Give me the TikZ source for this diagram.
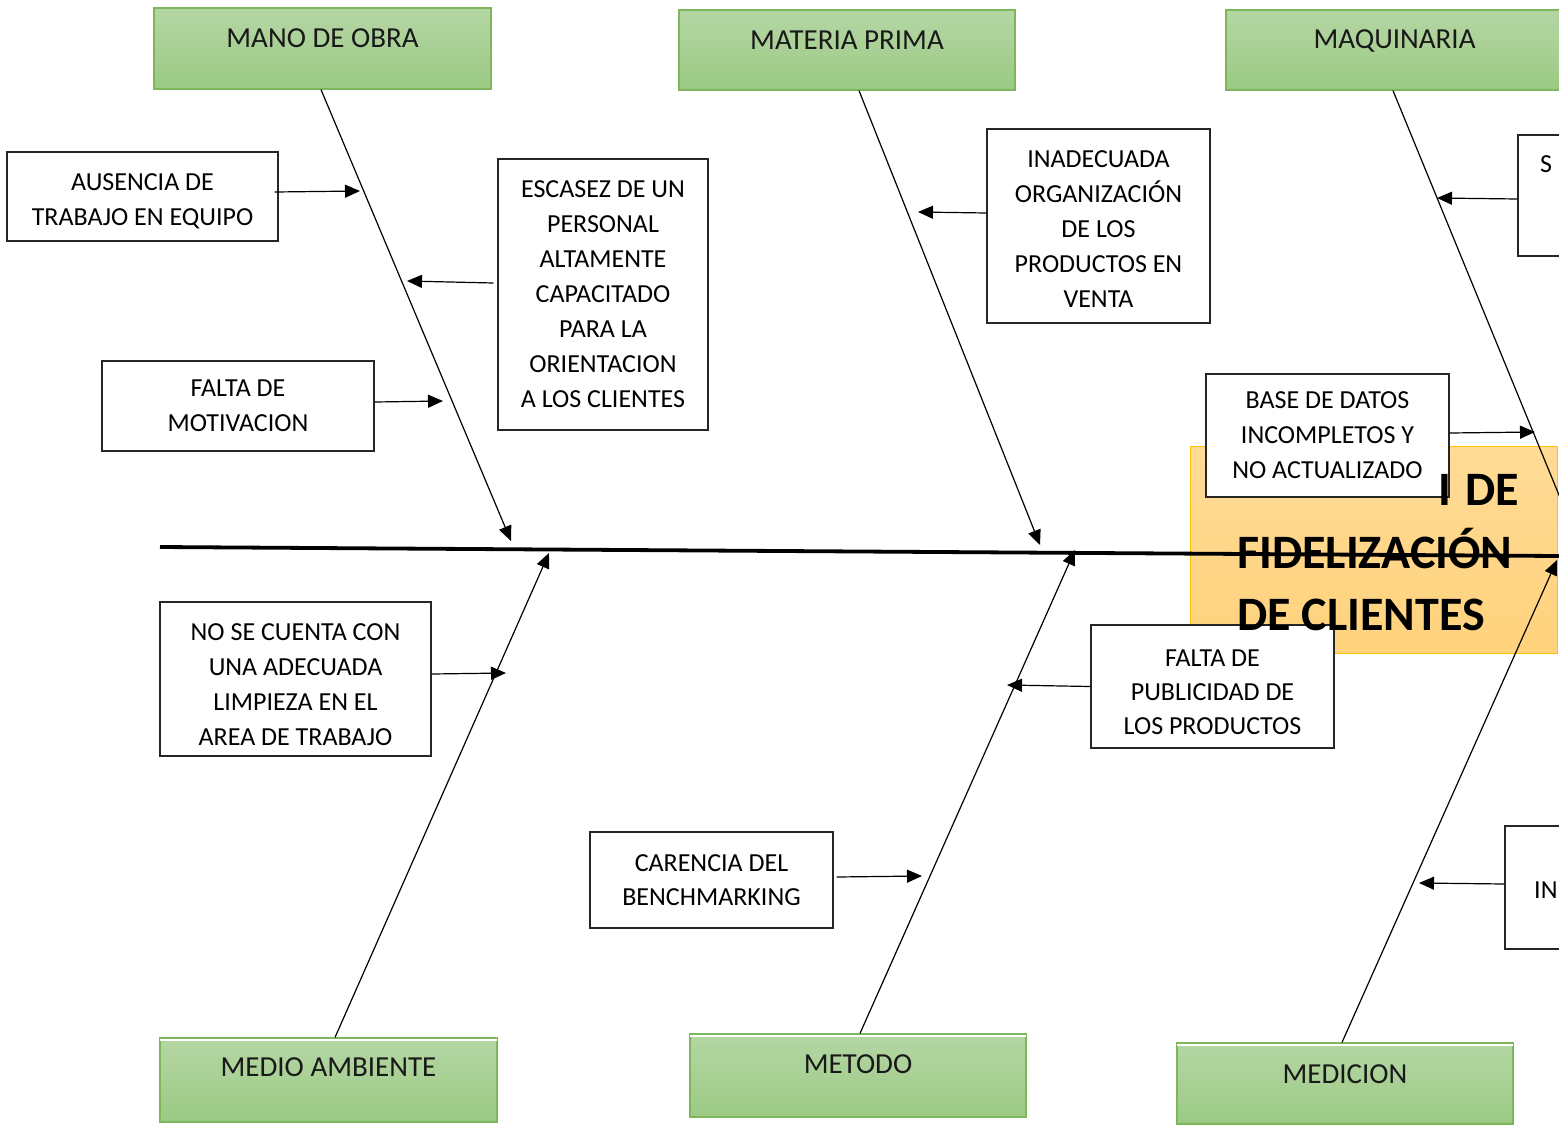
\documentclass[tikz,border=0pt]{standalone}
\usepackage{fontspec}
\setmainfont{Carlito}
\usetikzlibrary{arrows.meta,calc}
\definecolor{grTop}{HTML}{B5D6A4}
\definecolor{grBot}{HTML}{9BCA84}
\definecolor{grEdge}{HTML}{7DB65B}
\definecolor{orTop}{HTML}{FFDB96}
\definecolor{orBot}{HTML}{FFD27C}
\definecolor{orEdge}{HTML}{FFC000}
\newcommand{\upstrut}[1]{\rule{0pt}{#1}}
\tikzset{
  catbox/.style={draw=grEdge, line width=1.2pt, top color=grTop, bottom color=grBot, minimum height=81pt, minimum width=337pt, inner sep=0pt},
  cattxt/.style={font=\fontsize{29}{34}\selectfont, text=black!90, inner sep=0pt},
  cause/.style={draw=black!85, line width=1.1pt, fill=white, align=center, inner sep=0pt, font=\fontsize{26}{35}\selectfont},
  arr/.style={line width=1.2pt, -{Triangle[length=15pt,width=13pt]}},
  bone/.style={line width=1.2pt, -{Triangle[length=15pt,width=13pt]}},
  spine/.style={line width=3.8pt},
  bigtxt/.style={font=\fontsize{48}{63}\selectfont\bfseries, inner sep=0pt, anchor=base west},
  bevel/.style={white, line width=2pt}
}
\begin{document}
\begin{tikzpicture}[x=1pt,y=-1pt]
\useasboundingbox (0,0) rectangle (1559,1125);
\clip (0,0) rectangle (1559,1125);
\fill[white] (0,0) rectangle (1559,1125);

% effect box
\node[draw=orEdge, line width=1pt, top color=orTop, bottom color=orBot, minimum width=367pt, minimum height=207pt, inner sep=0pt] (eff) at (1373.5,549.5) {};

% category boxes
\node[catbox] (mano) at (322.5,48.5) {};
\node[cattxt] (manot) at (322.5,38) {MANO DE OBRA};
\node[catbox, minimum width=336pt, minimum height=80pt] (mat) at (847,50) {};
\node[cattxt] (matt) at (847,40) {MATERIA PRIMA};
\node[catbox, minimum height=80pt] (maq) at (1394.5,50) {};
\node[cattxt] (maqt) at (1394.5,41) {MAQUINARIA};
\node[catbox, minimum height=84pt] (medio) at (328.5,1080) {};
\draw[bevel] ([xshift=1pt,yshift=-3pt]medio.north west) -- ([xshift=-1pt,yshift=-3pt]medio.north east);
\node[cattxt] (mediot) at (328.5,1067) {MEDIO AMBIENTE};
\node[catbox, minimum width=336pt, minimum height=83pt] (met) at (858,1075.5) {};
\draw[bevel] ([xshift=1pt,yshift=-3pt]met.north west) -- ([xshift=-1pt,yshift=-3pt]met.north east);
\node[cattxt] (mett) at (858,1064) {METODO};
\node[catbox, minimum width=336pt] (med) at (1345,1083.5) {};
\draw[bevel] ([xshift=1pt,yshift=-3pt]med.north west) -- ([xshift=-1pt,yshift=-3pt]med.north east);
\node[cattxt] (medt) at (1345,1074) {MEDICION};

% cause boxes
\node[cause, minimum width=271pt, minimum height=89pt] (aus) at (142.5,196.5) {\upstrut{26pt}AUSENCIA DE\\TRABAJO EN EQUIPO};
\node[cause, minimum width=210pt, minimum height=271pt] (esc) at (603,294.5) {ESCASEZ DE UN\\PERSONAL\\ALTAMENTE\\CAPACITADO\\PARA LA\\ORIENTACION\\A LOS CLIENTES};
\node[cause, minimum width=272pt, minimum height=90pt] (mot) at (238,406) {FALTA DE\\MOTIVACION};
\node[cause, minimum width=223pt, minimum height=194pt] (ina) at (1098.5,226) {\upstrut{23pt}INADECUADA\\ORGANIZACIÓN\\DE LOS\\PRODUCTOS EN\\VENTA};
\node[cause, minimum width=60pt, minimum height=121pt] (sbox) at (1548,195.5) {};
\node[font=\fontsize{26}{35}\selectfont, inner sep=0pt, anchor=base west] (sboxt) at (1540,172) {S};
\node[cause, minimum width=243pt, minimum height=123pt] (base) at (1327.5,435.5) {BASE DE DATOS\\INCOMPLETOS Y\\NO ACTUALIZADO};
\node[cause, minimum width=243pt, minimum height=123pt, font=\fontsize{26}{34}\selectfont] (pub) at (1212.5,686.5) {\upstrut{28pt}FALTA DE\\PUBLICIDAD DE\\LOS PRODUCTOS};
\node[cause, minimum width=271pt, minimum height=154pt] (lim) at (295.5,679) {\upstrut{28pt}NO SE CUENTA CON\\UNA ADECUADA\\LIMPIEZA EN EL\\AREA DE TRABAJO};
\node[cause, minimum width=243pt, minimum height=96pt, font=\fontsize{26}{34}\selectfont] (ben) at (711.5,880) {CARENCIA DEL\\BENCHMARKING};
\node[cause, minimum width=70pt, minimum height=123pt] (inbox) at (1540,887.5) {};
\node[font=\fontsize{26}{35}\selectfont, inner sep=0pt, anchor=base west] (inboxt) at (1534,898) {IN};

% effect text
\node[bigtxt] (eff1) at (1438,505) {I\hspace{0.3em}DE};
\node[bigtxt] (eff2) at (1237,568) {FIDELIZACIÓN};
\node[bigtxt] (eff3) at (1237,630) {DE CLIENTES};

% spine
\coordinate (sp1) at (160,547);
\coordinate (sp2) at (1559,556);
\draw[spine] (sp1) -- (sp2);

% bones
\coordinate (bt1) at (511,541);
\coordinate (bt2) at (1040,545);
\coordinate (bt3) at (1584,556);
\coordinate (bb1) at (549,553);
\coordinate (bb2) at (1075,550);
\coordinate (bb3) at (1557,560);
\draw[bone] ([xshift=-1.5pt]mano.south) -- (bt1);
\draw[bone] ([xshift=12pt]mat.south) -- (bt2);
\draw[bone] ([xshift=-1.5pt]maq.south) -- (bt3);
\draw[bone] ([xshift=6.5pt]medio.north) -- (bb1);
\draw[bone] ([xshift=2pt]met.north) -- (bb2);
\draw[bone] ([xshift=-3pt]med.north) -- (bb3);

% cause arrows
\coordinate (c1) at (360,191);
\coordinate (c2) at (407,281);
\coordinate (c3) at (443,401);
\coordinate (c4) at (918,212);
\coordinate (c5) at (1437,198);
\coordinate (c6) at (1535,432);
\coordinate (c7) at (1007,685);
\coordinate (c8) at (506,673);
\coordinate (c9) at (922,876);
\coordinate (c10) at (1419,883);
\draw[arr] ([xshift=-4pt,yshift=4.5pt]aus.east) -- (c1);
\draw[arr] ([xshift=-4pt,yshift=11.5pt]esc.west) -- (c2);
\draw[arr] ([yshift=4pt]mot.east) -- (c3);
\draw[arr] ([yshift=13pt]ina.west) -- (c4);
\draw[arr] ([yshift=-3.5pt]sbox.west) -- (c5);
\draw[arr] ([yshift=2.5pt]base.east) -- (c6);
\draw[arr] (pub.west) -- (c7);
\draw[arr] ([yshift=5pt]lim.east) -- (c8);
\draw[arr] ([xshift=3pt,yshift=3pt]ben.east) -- (c9);
\draw[arr] ([yshift=3.5pt]inbox.west) -- (c10);
\end{tikzpicture}
\end{document}
